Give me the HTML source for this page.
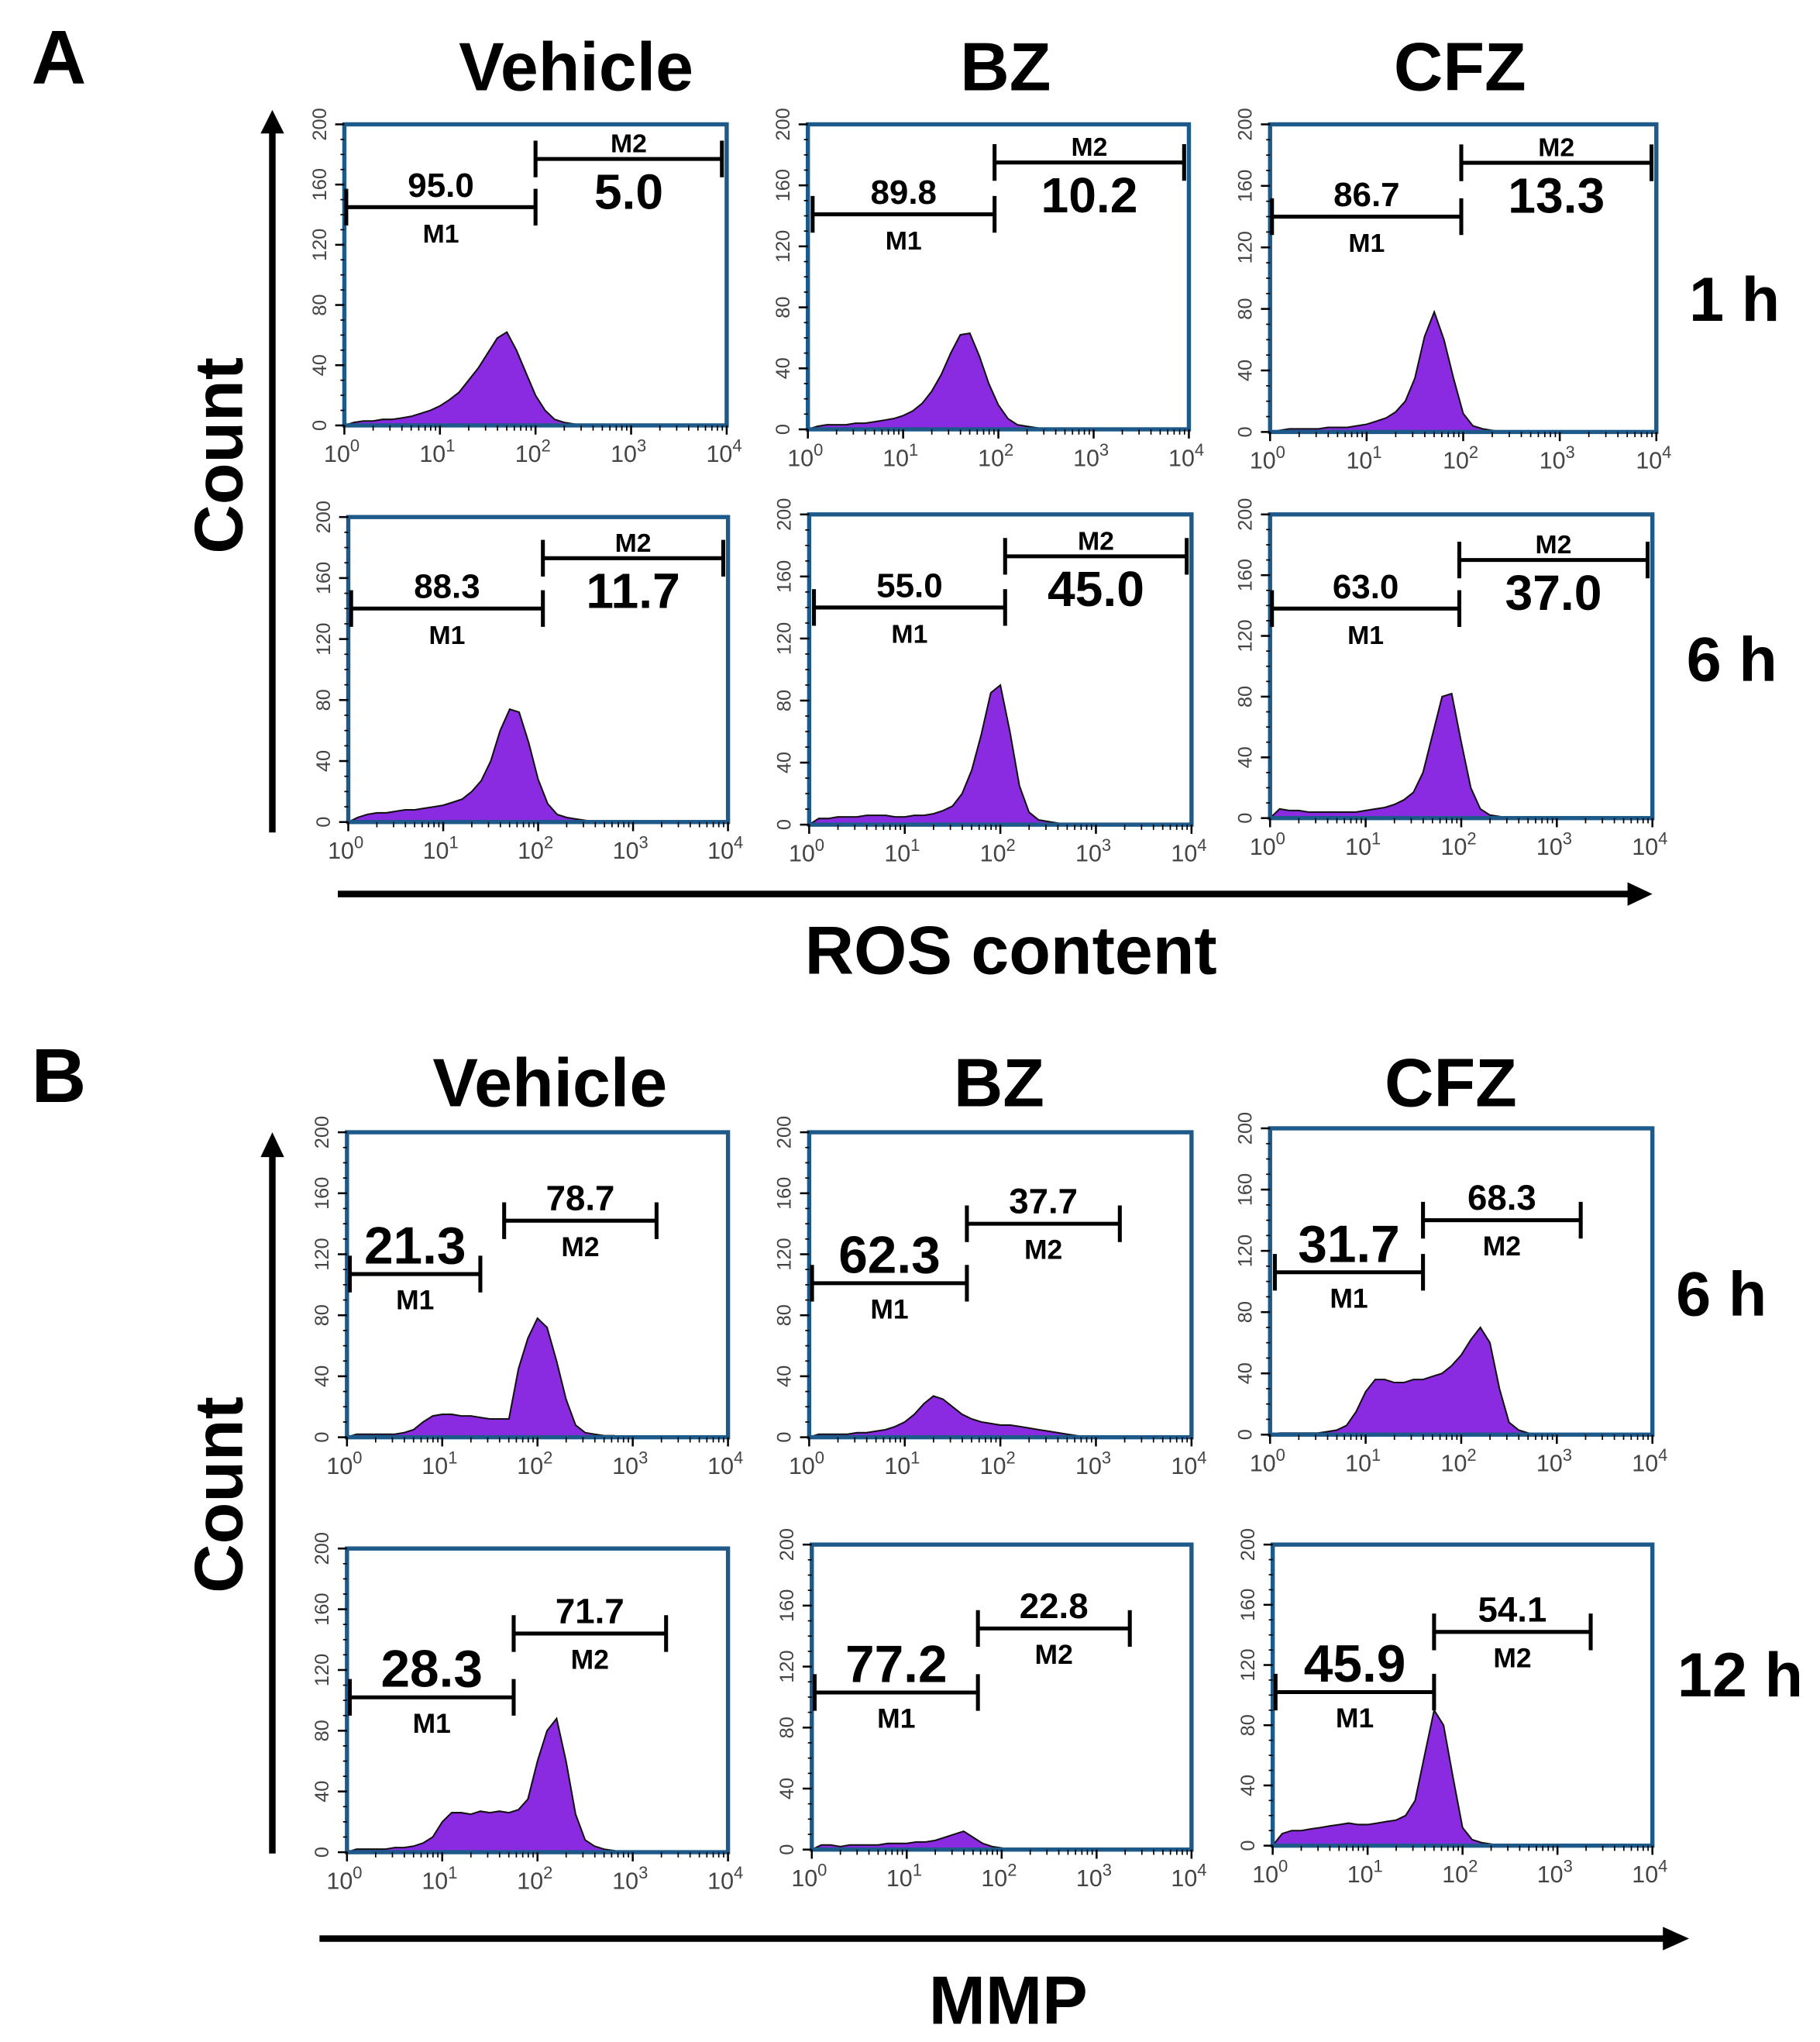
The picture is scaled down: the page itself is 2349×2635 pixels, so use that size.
<!DOCTYPE html>
<html><head><meta charset="utf-8"><style>
html,body{margin:0;padding:0;background:#fff}
svg{display:block}
text{font-family:"Liberation Sans",sans-serif}
</style></head><body>
<svg id="fig" xmlns="http://www.w3.org/2000/svg" width="2349" height="2635" viewBox="0 0 1390 1560" preserveAspectRatio="none">
<g id="static">
<text x="24" y="64" font-size="58" font-weight="bold">A</text>
<text x="24" y="842" font-size="58" font-weight="bold">B</text>
<text x="440" y="69" font-size="52" font-weight="bold" text-anchor="middle">Vehicle</text>
<text x="768" y="69" font-size="52" font-weight="bold" text-anchor="middle">BZ</text>
<text x="1115" y="69" font-size="52" font-weight="bold" text-anchor="middle">CFZ</text>
<text x="420" y="845" font-size="52" font-weight="bold" text-anchor="middle">Vehicle</text>
<text x="763" y="845" font-size="52" font-weight="bold" text-anchor="middle">BZ</text>
<text x="1108" y="845" font-size="52" font-weight="bold" text-anchor="middle">CFZ</text>
<text x="1290" y="245" font-size="48" font-weight="bold">1 h</text>
<text x="1288" y="520" font-size="48" font-weight="bold">6 h</text>
<text x="1280" y="1005" font-size="48" font-weight="bold">6 h</text>
<text x="1281" y="1296" font-size="48" font-weight="bold">12 h</text>
<text transform="translate(185,348) rotate(-90)" font-size="52" font-weight="bold" text-anchor="middle">Count</text>
<text transform="translate(185,1142) rotate(-90)" font-size="52" font-weight="bold" text-anchor="middle">Count</text>
<g><line x1="208" y1="636" x2="208" y2="100" stroke="#000" stroke-width="5"/><polygon points="199,102 217,102 208,84" fill="#000"/></g>
<g><line x1="208" y1="1416" x2="208" y2="882" stroke="#000" stroke-width="5"/><polygon points="199,884 217,884 208,865" fill="#000"/></g>
<g><line x1="258" y1="683" x2="1245" y2="683" stroke="#000" stroke-width="5"/><polygon points="1243,674 1243,692 1262,683" fill="#000"/></g>
<g><line x1="244" y1="1481" x2="1272" y2="1481" stroke="#000" stroke-width="5"/><polygon points="1270,1472 1270,1490 1290,1481" fill="#000"/></g>
<text x="772" y="744" font-size="52" font-weight="bold" text-anchor="middle">ROS content</text>
<text x="770" y="1546" font-size="52" font-weight="bold" text-anchor="middle">MMP</text>
</g>
<g id="panels"></g>
</svg>
<script>
// histogram counts at log10 intensity 0.0,0.1,...,4.0
const histA11=[0,2,3,3,4,4,5,6,8,10,13,17,22,30,38,48,58,62,50,35,20,10,4,2,1,0,0,0,0,0,0,0,0,0,0,0,0,0,0,0,0];
const histA12=[0,2,3,3,3,4,4,5,6,7,9,12,17,25,36,50,62,63,48,30,16,7,3,2,1,0,0,0,0,0,0,0,0,0,0,0,0,0,0,0,0];
const histA13=[0,1,2,2,2,2,3,3,3,4,5,7,9,13,20,35,62,78,60,35,12,4,2,1,0,0,0,0,0,0,0,0,0,0,0,0,0,0,0,0,0];
const histA21=[0,3,5,6,6,7,8,8,9,10,11,13,15,20,27,40,60,74,72,52,28,12,5,3,2,1,0,0,0,0,0,0,0,0,0,0,0,0,0,0,0];
const histA22=[0,4,4,5,5,5,6,6,6,5,5,6,6,7,9,12,20,35,58,85,90,60,25,8,3,2,1,0,0,0,0,0,0,0,0,0,0,0,0,0,0];
const histA23=[0,6,5,5,4,4,4,4,4,4,5,6,7,9,12,17,30,55,80,82,50,20,6,2,1,0,0,0,0,0,0,0,0,0,0,0,0,0,0,0,0];
const histB11=[0,2,2,2,2,2,3,5,10,14,15,15,14,14,13,12,12,12,45,65,78,72,50,25,8,3,2,1,1,0,0,0,0,0,0,0,0,0,0,0,0];
const histB12=[0,2,2,2,2,3,3,4,5,7,10,15,22,27,25,20,15,12,10,9,8,8,7,6,5,4,3,2,1,0,0,0,0,0,0,0,0,0,0,0,0];
const histB13=[0,1,1,1,1,1,2,3,6,15,28,36,36,34,34,36,36,38,40,45,52,62,70,60,30,8,3,1,0,0,0,0,0,0,0,0,0,0,0,0,0];
const histB21=[0,2,2,2,2,3,3,4,6,10,20,26,26,25,27,26,27,26,28,35,60,80,88,60,25,8,4,2,1,0,0,0,0,0,0,0,0,0,0,0,0];
const histB22=[0,3,3,2,3,3,3,3,4,4,4,5,5,6,8,10,12,8,4,2,1,0,0,0,0,0,0,0,0,0,0,0,0,0,0,0,0,0,0,0,0];
const histB23=[0,8,10,10,11,12,13,14,15,14,14,15,16,17,20,30,60,90,80,45,12,4,2,1,0,0,0,0,0,0,0,0,0,0,0,0,0,0,0,0,0];
// gates: [start log, end log, count level]
const gatesM1=[[0.02,2.0,145],[0.05,1.96,141],[0.02,1.98,140],[0.03,2.05,140],[0.05,2.05,140],[0.02,1.98,138],[0.03,1.4,107],[0.03,1.65,101],[0.05,1.6,106],[0.03,1.75,102],[0.03,1.75,103],[0.03,1.7,102]];
const gatesM2=[[2.0,3.95,177],[1.96,3.95,175],[1.98,3.95,175],[2.05,3.95,173],[2.05,3.95,173],[1.98,3.95,170],[1.65,3.25,142],[1.65,3.25,140],[1.6,3.25,140],[1.75,3.35,144],[1.75,3.35,145],[1.7,3.35,142]];
const valuesM1=["95.0","89.8","86.7","88.3","55.0","63.0","21.3","62.3","31.7","28.3","77.2","45.9"];
const valuesM2=["5.0","10.2","13.3","11.7","45.0","37.0","78.7","37.7","68.3","71.7","22.8","54.1"];
const yTicks=[0,40,80,120,160,200];
const xDecades=[0,1,2,3,4];
const panelNames=["a-1h-vehicle","a-1h-bz","a-1h-cfz","a-6h-vehicle","a-6h-bz","a-6h-cfz","b-6h-vehicle","b-6h-bz","b-6h-cfz","b-12h-vehicle","b-12h-bz","b-12h-cfz"];
const hists=[histA11,histA12,histA13,histA21,histA22,histA23,histB11,histB12,histB13,histB21,histB22,histB23];
const boxes=[[263,95,555,325],[617,95,908,328],[970,95,1265,330],[266,395,556,628],[618,393,910,630],[970,393,1262,625],
[265,865,556,1098],[618,865,910,1098],[970,862,1262,1096],[265,1183,556,1415],[620,1180,910,1413],[972,1180,1262,1410]];
const NS="http://www.w3.org/2000/svg";
const root=document.getElementById('panels');
function mk(tag,attrs,parent){const e=document.createElementNS(NS,tag);for(const k in attrs)e.setAttribute(k,attrs[k]);parent.appendChild(e);return e;}
hists.forEach((h,i)=>{
  const [x0,y0,x1,y1]=boxes[i];
  const sx=v=>x0+(x1-x0)*v/4;
  const sy=c=>y1-(y1-y0)*c/200;
  const g=mk('g',{},root);
  
  
  let d='M'+sx(0)+','+sy(0);
  h.forEach((c,k)=>{d+=' L'+sx(k*0.1).toFixed(1)+','+sy(c).toFixed(1);});
  d+=' L'+sx(4)+','+sy(0)+' Z';
  const p=mk('path',{d:d,fill:'#8a2be2',stroke:'#111','stroke-width':1.2},g);
  
  
  const r=mk('rect',{x:x0,y:y0,width:x1-x0,height:y1-y0,fill:'none',stroke:'#1d5a8a','stroke-width':3.2},g);
  
  
  yTicks.forEach(t=>{
    mk('line',{x1:x0-7,x2:x0,y1:sy(t),y2:sy(t),stroke:'#000','stroke-width':1.5},g);
    const tx=mk('text',{transform:`translate(${x0-14},${sy(t)}) rotate(-90)`,'font-size':15,fill:'#444','text-anchor':'middle'},g);
    tx.textContent=t;
    
    
  });
  for(let t=0;t<=200;t+=10) mk('line',{x1:x0-3,x2:x0,y1:sy(t),y2:sy(t),stroke:'#000','stroke-width':1},g);
  xDecades.forEach(dd=>{
    mk('line',{x1:sx(dd),x2:sx(dd),y1:y1,y2:y1+7,stroke:'#000','stroke-width':1.5},g);
    if(dd<4) for(let m=2;m<10;m++){const xv=sx(dd+Math.log10(m));mk('line',{x1:xv,x2:xv,y1:y1,y2:y1+4,stroke:'#000','stroke-width':1},g);}
    const tx=mk('text',{x:sx(dd)-2,y:y1+28,'font-size':18,fill:'#444','text-anchor':'middle'},g);
    tx.innerHTML='10<tspan dy="-8" font-size="13">'+dd+'</tspan>';
    
    
  });
  const isA=i<6;
  [[gatesM1[i],'M1',valuesM1[i]],[gatesM2[i],'M2',valuesM2[i]]].forEach(([gt,nm,val],j)=>{
    const gx0=sx(gt[0]),gx1=sx(gt[1]),gy=sy(gt[2]),cx=(gx0+gx1)/2;
    const gg=mk('g',{},g);
    
    
    mk('line',{x1:gx0,x2:gx1,y1:gy,y2:gy,stroke:'#000','stroke-width':3},gg);
    mk('line',{x1:gx0,x2:gx0,y1:gy-14,y2:gy+14,stroke:'#000','stroke-width':3},gg);
    mk('line',{x1:gx1,x2:gx1,y1:gy-14,y2:gy+14,stroke:'#000','stroke-width':3},gg);
    let big, above;
    if(isA){big=(j===1);above=(j===0);} else {big=(j===0);above=true;}
    const fs=big?(isA?38:40):(isA?26:27);
    const vt=mk('text',{x:cx,y:above?gy-8:gy+38,'font-size':fs,'font-weight':'bold','text-anchor':'middle'},gg);
    vt.textContent=val;
    
    
    const lt=mk('text',{x:cx,y:(isA&&j===1)?gy-5:gy+27,'font-size':isA?20:21,'font-weight':'bold','text-anchor':'middle'},gg);
    lt.textContent=nm;
    
    
  });
});
</script>
</body></html>
